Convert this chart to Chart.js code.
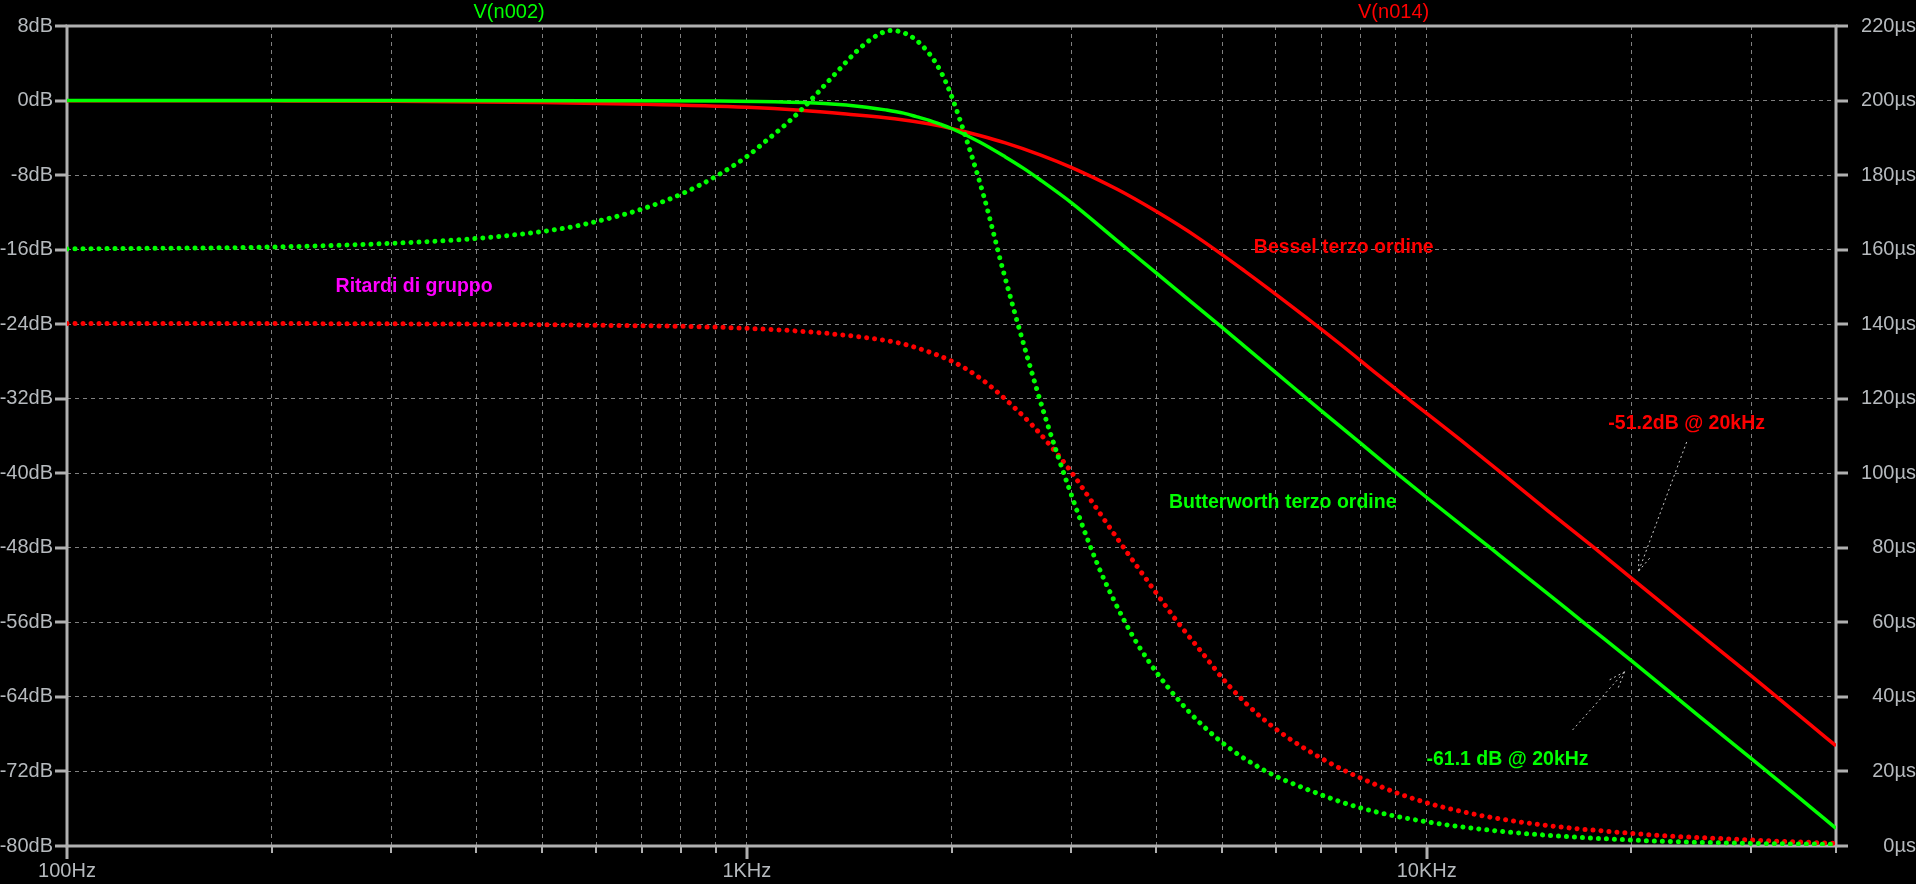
<!DOCTYPE html>
<html><head><meta charset="utf-8">
<script src="https://cdn.jsdelivr.net/npm/chart.js@4/dist/chart.umd.min.js"></script>
<style>html,body{margin:0;padding:0;background:#000;overflow:hidden}canvas{display:block}</style>
</head><body>
<canvas id="c" width="1916" height="884"></canvas>
<script>
// ---- data ----
const butterMagFreq = [100,300,600,900,1100,1300,1500,1600,1700,1775,1850,1925,2000,2200,2400,2550,2700,3000,3500,4000,5000,6000,7000,8000,9000,10000,12500,15000,17000,20000,25000,30000,35000,40000];
const butterMagDb   = [0,0,-0.01,-0.04,-0.12,-0.32,-0.71,-1.0,-1.35,-1.72,-2.1,-2.54,-3.0,-4.45,-6.05,-7.25,-8.5,-10.95,-15.0,-18.5,-24.35,-29.2,-33.3,-36.8,-39.9,-42.6,-48.2,-52.8,-56.0,-60.1,-65.9,-70.6,-74.6,-78.1];

const besselMagFreq = [100,200,300,500,700,1000,1200,1400,1650,1850,2000,2200,2400,2700,3000,3500,4000,4600,5400,6400,7450,8500,9500,11200,13000,15000,17500,20000,23700,28000,32000,36000,40000];
const besselMagDb   = [-0.01,-0.035,-0.08,-0.22,-0.4,-0.73,-1.05,-1.45,-1.95,-2.5,-3.0,-3.75,-4.54,-5.82,-7.17,-9.5,-11.89,-14.68,-18.3,-22.35,-26.1,-29.5,-32.3,-36.4,-40.2,-43.9,-47.8,-51.25,-55.65,-59.95,-63.4,-66.5,-69.25];

const butterGdFreq = [100,200,300,400,537,615,704,803,907,1000,1069,1144,1210,1283,1362,1450,1551,1630,1720,1803,1901,1970,2052,2230,2382,2578,2759,2980,3255,3455,3766,4313,4938,5704,6711,8036,10000,13100,20000,30000,40000];
const butterGdUs   = [160.2,160.7,161.7,163.0,165.7,168,171,175,180,185,189.3,193.8,198.0,202.9,208.0,213.2,217.4,218.8,217.8,215.1,209.8,204.2,195.5,174.5,154.4,132,114,95.8,77,66.5,53.8,39.2,28.6,20.8,15.0,10.1,6.5,3.8,1.6,0.7,0.45];

const besselGdFreq = [100,300,537,1000,1386,1679,1817,2011,2177,2329,2479,2636,2790,2985,3195,3419,3617,3826,4000,4272,4677,5119,5807,6956,8332,10000,13100,20000,30000,40000];
const besselGdUs   = [140.2,140.1,139.8,138.9,137.1,134.9,133.1,129.9,126.2,122.0,117.5,112.7,107.6,100.9,93.2,85.4,79.0,72.8,67.9,60.8,51.8,43.0,33.4,23.8,16.8,11.6,7.0,3.4,1.6,0.7];

const xGridValues  = [100,200,300,400,500,600,700,800,900,1000,2000,3000,4000,5000,6000,7000,8000,9000,10000,20000,30000,40000];
const xDecadeValues = [100,1000,10000];
const xDecadeLabels = ['100Hz','1KHz','10KHz'];
const yLeftTicks  = [-80,-72,-64,-56,-48,-40,-32,-24,-16,-8,0,8];
const yRightTicks = [0,20,40,60,80,100,120,140,160,180,200,220];
const traceNames  = ['V(n002)','V(n014)'];
const traceNameFreq = [447, 8940];
const notes = [
  {text:'Ritardi di gruppo', f:324, db:-20.0, color:'#ff00ff'},
  {text:'Bessel terzo ordine', f:7551, db:-15.8, color:'#ff0000'},
  {text:'Butterworth terzo ordine', f:6141, db:-43.2, color:'#00ff00'},
  {text:'-51.2dB @ 20kHz', f:24120, db:-34.7, color:'#ff0000'},
  {text:'-61.1 dB @ 20kHz', f:13150, db:-70.7, color:'#00ff00'}
];
const arrows = [
  {f1:24120, db1:-36.65, f2:20500, db2:-50.5},
  {f1:16390, db1:-67.55, f2:19550, db2:-61.3}
];

const GREEN='#00ff00', RED='#ff0000', AXIS='#b0b0b0', GRID='#808080', TXT='#b6babe';
const FONT='"Liberation Sans", Arial, sans-serif';
const pts = (f, v) => f.map((x, i) => ({x, y: v[i]}));

Chart.defaults.font.family = FONT;
Chart.defaults.font.size = 20;
Chart.defaults.color = TXT;

const deco = {
  id: 'deco',
  beforeDatasetsDraw(chart) {
    const {ctx, chartArea: a, scales: {x, y, y1}} = chart;
    ctx.save();
    ctx.strokeStyle = AXIS;
    ctx.lineCap = 'butt';
    const line = (x1, y1_, x2, y2) => { ctx.beginPath(); ctx.moveTo(x1, y1_); ctx.lineTo(x2, y2); ctx.stroke(); };
    ctx.lineWidth = 3;
    ctx.strokeRect(a.left, a.top, a.right - a.left, a.bottom - a.top);
    yLeftTicks.forEach(v => { const p = Math.round(y.getPixelForValue(v)); line(a.left - 12, p, a.left, p); });
    yRightTicks.forEach(v => { const p = Math.round(y1.getPixelForValue(v)); line(a.right, p, a.right + 12, p); });
    xGridValues.forEach(v => {
      const p = Math.round(x.getPixelForValue(v));
      const major = xDecadeValues.includes(v);
      ctx.lineWidth = major ? 3 : 2;
      line(p, a.bottom, p, a.bottom + (major ? 13 : 7));
    });
    ctx.restore();
  },
  afterDatasetsDraw(chart) {
    const {ctx, chartArea: a, scales: {x, y}} = chart;
    ctx.save();
    ctx.textAlign = 'center';
    ctx.textBaseline = 'middle';
    ctx.font = '20px ' + FONT;
    traceNames.forEach((t, i) => {
      ctx.fillStyle = i === 0 ? GREEN : RED;
      ctx.fillText(t, x.getPixelForValue(traceNameFreq[i]), a.top - 14);
    });
    ctx.font = 'bold 19.5px ' + FONT;
    notes.forEach(n => {
      ctx.fillStyle = n.color;
      ctx.fillText(n.text, x.getPixelForValue(n.f), y.getPixelForValue(n.db));
    });
    ctx.strokeStyle = '#c8c8c8';
    ctx.lineWidth = 1;
    ctx.setLineDash([2, 3]);
    arrows.forEach(r => {
      const x1 = x.getPixelForValue(r.f1), y1p = y.getPixelForValue(r.db1);
      const x2 = x.getPixelForValue(r.f2), y2p = y.getPixelForValue(r.db2);
      ctx.beginPath(); ctx.moveTo(x1, y1p); ctx.lineTo(x2, y2p); ctx.stroke();
      const ang = Math.atan2(y1p - y2p, x1 - x2);
      [-0.35, 0.35].forEach(d => {
        ctx.beginPath();
        ctx.moveTo(x2, y2p);
        ctx.lineTo(x2 + 18 * Math.cos(ang + d), y2p + 18 * Math.sin(ang + d));
        ctx.stroke();
      });
    });
    ctx.restore();
  }
};

new Chart(document.getElementById('c'), {
  type: 'line',
  data: {
    datasets: [
      {label: 'Butterworth |H|', data: pts(butterMagFreq, butterMagDb), yAxisID: 'y',
       borderColor: GREEN, borderWidth: 3.5, pointRadius: 0, cubicInterpolationMode: 'monotone'},
      {label: 'Butterworth ritardo', data: pts(butterGdFreq, butterGdUs), yAxisID: 'y1',
       borderColor: GREEN, borderWidth: 5, borderDash: [0.001, 8], borderCapStyle: 'round', pointRadius: 0, cubicInterpolationMode: 'monotone'},
      {label: 'Bessel |H|', data: pts(besselMagFreq, besselMagDb), yAxisID: 'y',
       borderColor: RED, borderWidth: 3.5, pointRadius: 0, cubicInterpolationMode: 'monotone'},
      {label: 'Bessel ritardo', data: pts(besselGdFreq, besselGdUs), yAxisID: 'y1',
       borderColor: RED, borderWidth: 5, borderDash: [0.001, 8], borderCapStyle: 'round', pointRadius: 0, cubicInterpolationMode: 'monotone'}
    ]
  },
  options: {
    responsive: false,
    animation: false,
    devicePixelRatio: 1,
    parsing: false,
    layout: {padding: {top: 26, left: 0, right: 0, bottom: 0}},
    plugins: {legend: {display: false}, tooltip: {enabled: false}},
    scales: {
      x: {
        type: 'logarithmic', min: 100, max: 40000,
        afterBuildTicks: s => { s.ticks = xGridValues.map(v => ({value: v})); },
        afterFit: s => { s.height = 38; },
        grid: {color: GRID, lineWidth: 1, drawTicks: false},
        border: {display: false, dash: [4, 4]},
        ticks: {autoSkip: false, maxRotation: 0, minRotation: 0, padding: 13, color: TXT,
          callback: v => { const i = xDecadeValues.indexOf(v); return i >= 0 ? xDecadeLabels[i] : ''; }}
      },
      y: {
        position: 'left', min: -80, max: 8,
        afterBuildTicks: s => { s.ticks = yLeftTicks.map(v => ({value: v})); },
        afterFit: s => { s.width = 67; },
        grid: {color: GRID, lineWidth: 1, drawTicks: false},
        border: {display: false, dash: [4, 4]},
        ticks: {padding: 14, color: TXT, callback: v => v + 'dB'}
      },
      y1: {
        position: 'right', min: 0, max: 220,
        afterBuildTicks: s => { s.ticks = yRightTicks.map(v => ({value: v})); },
        afterFit: s => { s.width = 80; },
        grid: {drawOnChartArea: false, drawTicks: false},
        border: {display: false},
        ticks: {padding: 14, color: TXT, crossAlign: 'far', callback: v => v + 'µs'}
      }
    }
  },
  plugins: [deco]
});
</script>
</body></html>
